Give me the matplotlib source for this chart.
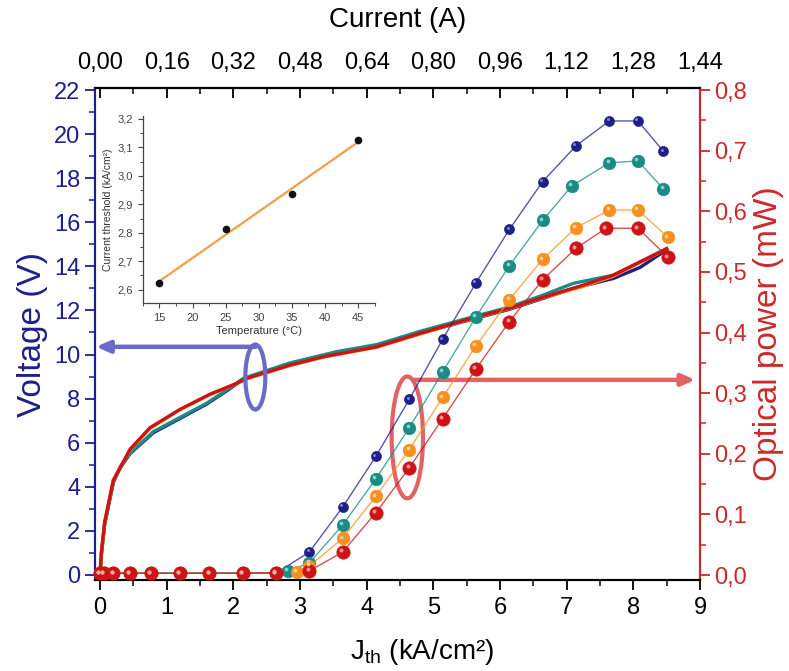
import numpy as np
import matplotlib
matplotlib.use("Agg")
import matplotlib.pyplot as plt
from matplotlib.patches import Ellipse
from matplotlib.ticker import MultipleLocator, FuncFormatter, FixedLocator
from matplotlib import transforms

plt.rcParams['font.family'] = ['Liberation Sans', 'DejaVu Sans']
plt.rcParams['mathtext.default'] = 'regular'

# ---------------- data ----------------
# Optical power (mW) vs current density (kA/cm2), four temperatures
j_low = [0.0, 0.06, 0.2, 0.45, 0.76, 1.2, 1.64, 2.14]
p_low = [0.003, 0.003, 0.003, 0.003, 0.003, 0.003, 0.003, 0.003]

j_blue = [2.64, 3.14, 3.64, 4.14, 4.64, 5.14, 5.64, 6.14, 6.64, 7.14, 7.64, 8.07, 8.45]
p_blue = [0.003, 0.038, 0.112, 0.196, 0.290, 0.389, 0.482, 0.570, 0.649, 0.708, 0.749, 0.749, 0.699]

j_teal = [2.64, 2.82, 3.14, 3.64, 4.14, 4.64, 5.14, 5.64, 6.14, 6.64, 7.08, 7.64, 8.07, 8.45]
p_teal = [0.003, 0.0066, 0.020, 0.0825, 0.159, 0.243, 0.335, 0.426, 0.510, 0.585, 0.642, 0.680, 0.683, 0.637]

j_orange = [2.64, 2.95, 3.14, 3.64, 4.14, 4.64, 5.14, 5.64, 6.14, 6.64, 7.14, 7.64, 8.07, 8.52]
p_orange = [0.003, 0.0054, 0.015, 0.0605, 0.130, 0.207, 0.293, 0.378, 0.454, 0.521, 0.573, 0.602, 0.602, 0.557]

j_red = [2.64, 3.14, 3.64, 4.14, 4.64, 5.14, 5.64, 6.14, 6.64, 7.14, 7.59, 8.07, 8.52]
p_red = [0.004, 0.0066, 0.038, 0.103, 0.177, 0.258, 0.340, 0.418, 0.487, 0.539, 0.572, 0.572, 0.524]

# Voltage (V) vs current density
jv_red = [0.0, 0.02, 0.07, 0.2, 0.3, 0.45, 0.75, 1.2, 1.65, 2.05, 2.2, 2.85, 3.35, 4.15, 4.8, 5.64, 6.14, 6.65, 7.2, 7.7, 8.5]
v_red = [0.0, 1.0, 2.4, 4.3, 4.84, 5.7, 6.68, 7.51, 8.2, 8.69, 8.92, 9.52, 9.9, 10.35, 10.96, 11.7, 12.1, 12.6, 13.1, 13.6, 14.8]

jv_teal = [0.0, 0.02, 0.07, 0.2, 0.3, 0.45, 0.8, 1.6, 1.9, 2.15, 2.85, 3.55, 4.15, 4.8, 5.64, 6.14, 6.65, 7.1, 7.7, 8.5]
v_teal = [0.0, 0.9, 2.3, 4.2, 4.9, 5.52, 6.5, 7.79, 8.39, 8.92, 9.62, 10.13, 10.45, 11.05, 11.75, 12.15, 12.7, 13.23, 13.6, 14.8]

jv_blue = [0.0, 0.02, 0.07, 0.2, 0.3, 0.45, 0.8, 1.6, 1.9, 2.15, 2.85, 3.55, 4.15, 4.8, 5.64, 6.14, 6.65, 7.1, 7.7, 8.1, 8.5]
v_blue = [0.0, 0.9, 2.3, 4.2, 4.85, 5.5, 6.45, 7.75, 8.35, 8.88, 9.55, 10.05, 10.4, 10.95, 11.65, 12.05, 12.55, 13.0, 13.45, 13.95, 14.75]

jv_orange = [0.0, 0.02, 0.07, 0.2, 0.3, 0.45, 0.75, 1.2, 1.65, 2.05, 2.2, 2.85, 3.35, 4.15, 4.8, 5.64, 6.14, 6.65, 7.2, 7.7, 8.5]
v_orange = [0.0, 1.0, 2.4, 4.3, 4.84, 5.68, 6.65, 7.5, 8.18, 8.68, 8.9, 9.5, 9.88, 10.33, 10.93, 11.68, 12.08, 12.58, 13.05, 13.55, 14.8]

# Inset: threshold vs temperature
temps = [15, 25, 35, 45]
jth = [2.623, 2.812, 2.937, 3.125]

top_ticks = [0.00, 0.16, 0.32, 0.48, 0.64, 0.80, 0.96, 1.12, 1.28, 1.44]

# ---------------- style ----------------
NAVY = '#1f1f8a'
TEAL = '#1a8c84'
ORANGE = '#f7901e'
RED = '#cc1414'
AX_RED = '#cc2a2a'
ELL_BLUE = '#6a6ac8'
ELL_RED = '#e06464'

fig = plt.figure(figsize=(7.89, 6.71), dpi=100)
ax1 = fig.add_axes([0.1204, 0.1356, 0.7668, 0.7332])
ax2 = ax1.twinx()

def comma(fmt):
    return FuncFormatter(lambda v, p: (fmt % v).replace('.', ','))

# voltage curves
for jx, vy, c in [(jv_blue, v_blue, NAVY), (jv_teal, v_teal, TEAL),
                  (jv_orange, v_orange, ORANGE), (jv_red, v_red, RED)]:
    ax1.plot(jx, vy, color=c, lw=2.4, solid_joinstyle='round', zorder=3)

ax1.set_xlim(-0.075, 9.0)
ax1.set_ylim(-0.23, 22.09)
ax2.set_ylim(-0.0082, 0.8033)

# power series with sphere-like markers
hl = transforms.offset_copy(ax2.transData, fig=fig, x=-1.2, y=1.2, units='points')
series = [
    (j_blue, p_blue, NAVY, '#8a8ad0', 7.2),
    (j_teal, p_teal, TEAL, '#9ad8d0', 9.0),
    (j_orange, p_orange, ORANGE, '#ffd8a0', 9.0),
    (j_red, p_red, RED, '#f4a0a0', 9.6),
]
for jx, py, c, lc, ms in series:
    xs = j_low + jx
    ys = p_low + py
    ax2.plot(xs, ys, color=c, lw=1.0, alpha=0.75, zorder=4, clip_on=False)
    ax2.plot(xs, ys, ls='none', marker='o', ms=ms, mfc=c, mec=c, mew=0.5,
             zorder=5, clip_on=False)
    ax2.plot(xs, ys, ls='none', marker='o', ms=ms * 0.3, mfc=lc, mec='none',
             alpha=0.9, zorder=6, clip_on=False, transform=hl)

# annotations: ellipses and arrows
ell_b = Ellipse((2.33, 8.98), 0.30, 2.95, fill=False, ec=ELL_BLUE, lw=3, zorder=7)
ax1.add_patch(ell_b)
ax1.annotate('', xy=(-0.06, 10.35), xytext=(2.33, 10.35),
             arrowprops=dict(arrowstyle='-|>,head_length=0.8,head_width=0.35',
                             color=ELL_BLUE, lw=3.2, shrinkA=0, shrinkB=0),
             zorder=7)
ell_r = Ellipse((4.61, 6.24), 0.47, 5.53, fill=False, ec=ELL_RED, lw=3, zorder=7)
ax1.add_patch(ell_r)
ax1.annotate('', xy=(8.93, 8.85), xytext=(4.72, 8.85),
             arrowprops=dict(arrowstyle='-|>,head_length=0.8,head_width=0.35',
                             color=ELL_RED, lw=3.2, shrinkA=0, shrinkB=0),
             zorder=7)

# axes styling
ax1.xaxis.set_major_locator(MultipleLocator(1))
ax1.xaxis.set_minor_locator(MultipleLocator(0.5))
ax1.yaxis.set_major_locator(MultipleLocator(2))
ax1.yaxis.set_minor_locator(MultipleLocator(1))
ax2.yaxis.set_major_locator(MultipleLocator(0.1))
ax2.yaxis.set_minor_locator(MultipleLocator(0.05))
ax2.yaxis.set_major_formatter(comma('%.1f'))

ax1.tick_params(axis='x', which='major', direction='out', length=7, width=1.3,
                labelsize=17, pad=5, top=False)
ax1.tick_params(axis='x', which='minor', direction='out', length=4, width=1.1, top=False)
ax1.tick_params(axis='y', which='major', direction='out', length=7, width=1.3,
                labelsize=17, colors=NAVY)
ax1.tick_params(axis='y', which='minor', direction='out', length=4, width=1.1, colors=NAVY)
ax2.tick_params(axis='y', which='major', direction='out', length=7, width=1.3,
                labelsize=17, colors=AX_RED)
ax2.tick_params(axis='y', which='minor', direction='out', length=4, width=1.1, colors=AX_RED)

for sp in ax1.spines.values():
    sp.set_linewidth(1.5)
for sp in ax2.spines.values():
    sp.set_linewidth(1.5)
ax1.spines['left'].set_color(NAVY)
ax2.spines['left'].set_color(NAVY)
ax2.spines['right'].set_color(AX_RED)
ax1.spines['right'].set_color(AX_RED)

ax1.set_xlabel('J$_{th}$ (kA/cm²)', fontsize=20, labelpad=13)
ax1.xaxis.set_label_coords(0.54, -0.115)
ax1.set_ylabel('Voltage (V)', fontsize=24, color=NAVY, labelpad=4)
ax2.set_ylabel('Optical power (mW)', fontsize=24, color=AX_RED, labelpad=4)

# top axis: current
secx = ax1.secondary_xaxis('top', functions=(lambda x: x * 0.16, lambda x: x / 0.16))
secx.xaxis.set_major_locator(FixedLocator(top_ticks))
secx.xaxis.set_minor_locator(MultipleLocator(0.08))
secx.xaxis.set_major_formatter(comma('%.2f'))
secx.tick_params(axis='x', which='major', direction='in', length=7, width=1.3,
                 labelsize=17, pad=10)
secx.tick_params(axis='x', which='minor', direction='in', length=4, width=1.1)
secx.spines['top'].set_linewidth(1.5)
secx.set_xlabel('Current (A)', fontsize=20, labelpad=18)

# inset
axi = fig.add_axes([0.181, 0.548, 0.294, 0.279])
coef = np.polyfit(temps, jth, 1)
tt = np.array([temps[0], temps[-1]])
axi.plot(tt, np.polyval(coef, tt), color='#f0a04a', lw=1.6, zorder=2)
axi.plot(temps, jth, ls='none', marker='o', ms=4.5, mfc='#111111', mec='#111111', zorder=3)
axi.set_xlim(12.5, 47.5)
axi.set_ylim(2.552, 3.21)
axi.xaxis.set_major_locator(MultipleLocator(5))
axi.xaxis.set_minor_locator(MultipleLocator(2.5))
axi.yaxis.set_major_locator(MultipleLocator(0.1))
axi.yaxis.set_minor_locator(MultipleLocator(0.05))
axi.yaxis.set_major_formatter(comma('%.1f'))
axi.spines['top'].set_visible(False)
axi.spines['right'].set_visible(False)
for s in ('left', 'bottom'):
    axi.spines[s].set_color('#444444')
    axi.spines[s].set_linewidth(0.9)
axi.tick_params(which='major', direction='out', length=3.5, width=0.8,
                labelsize=8, colors='#444444')
axi.tick_params(which='minor', direction='out', length=2, width=0.7, colors='#444444')
axi.set_xlabel('Temperature (°C)', fontsize=8, color='#333333', labelpad=2)
axi.set_ylabel('Current threshold (kA/cm²)', fontsize=7.5, color='#333333', labelpad=3)

fig.savefig('out.png', dpi=100)
